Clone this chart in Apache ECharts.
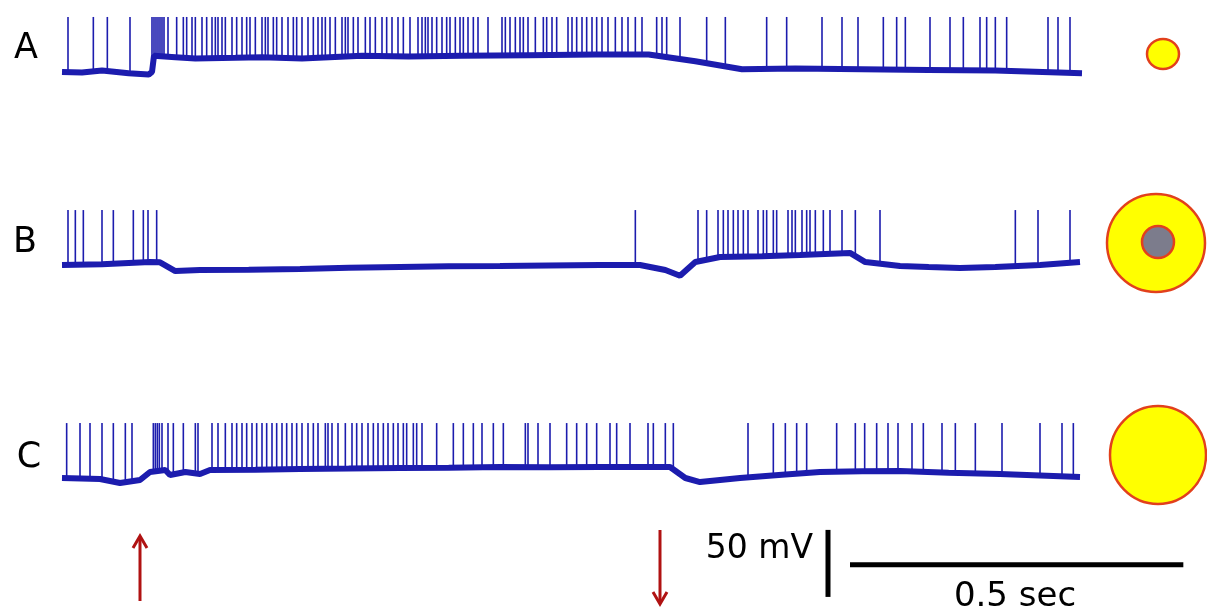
<!DOCTYPE html>
<html><head><meta charset="utf-8">
<script src="https://cdn.jsdelivr.net/npm/echarts@6/dist/echarts.min.js"></script>
<style>html,body{margin:0;padding:0;background:#fff}#c{width:1207px;height:613px}</style>
</head><body><div id="c"></div>
<script>
// ---- data (time in ms, membrane potential in mV) ----
const traceLabels = ['A', 'B', 'C'];
const spikePeak = [-24, -24, -24];
const spikesA = [9,47,68,102,135,138,141,144,147,150,153,159,172,182,187,195,200,210,217,225,230,234,240,245,255,262,270,277,282,290,300,305,309,317,322,330,339,347,352,360,369,377,384,390,395,402,410,420,425,429,437,444,455,462,470,480,487,495,504,512,522,534,540,545,549,555,562,570,577,582,590,597,602,609,617,624,639,660,665,672,680,687,692,699,710,722,727,735,742,759,765,772,780,787,795,802,810,819,830,840,849,860,870,892,900,907,927,967,995,1057,1087,1140,1170,1194,1232,1252,1265,1302,1332,1352,1377,1387,1400,1417,1479,1494,1512];
const baseA_t = [0,30,60,100,130,135,138,170,200,260,300,360,450,520,600,700,800,880,950,1020,1100,1200,1300,1400,1530];
const baseA_v = [-65,-65.5,-64,-66,-67,-65,-53,-54,-55,-54.5,-54,-55,-53,-53.5,-53,-52.5,-52,-52,-57,-63,-62.5,-63,-63.5,-64,-66];
const spikesB = [9,20,32,60,77,107,122,129,142,860,954,967,984,992,999,1007,1014,1022,1029,1044,1052,1057,1067,1072,1089,1095,1100,1110,1117,1122,1130,1142,1152,1170,1190,1227,1430,1464,1512];
const baseB_t = [0,60,132,147,170,207,280,357,430,507,580,657,730,807,867,905,927,950,987,1050,1107,1182,1205,1257,1300,1347,1400,1467,1527];
const baseB_v = [-65,-64.5,-62.8,-63,-69.5,-68.7,-68.5,-68,-67,-66.5,-66,-65.7,-65.3,-65,-65,-68.7,-73,-62.8,-59,-58.5,-57.5,-56,-62.8,-65.7,-66.5,-67.2,-66.5,-65,-62.8];
const spikesC = [7,27,42,60,77,95,105,137,140,143,146,150,159,167,182,200,204,225,234,245,255,262,270,277,285,292,300,307,315,322,330,337,345,352,360,369,377,384,395,399,405,414,425,435,442,450,459,467,474,482,489,497,504,512,517,527,532,540,562,587,602,617,630,647,662,695,699,714,732,757,772,787,802,822,832,852,879,887,905,917,1029,1067,1085,1102,1117,1162,1190,1204,1222,1239,1254,1275,1292,1320,1340,1370,1410,1467,1500,1517];
const baseC_t = [0,57,87,117,132,155,162,185,207,222,290,357,430,507,580,657,730,807,912,935,957,1017,1080,1137,1200,1257,1330,1407,1527];
const baseC_v = [-65,-65.7,-68.7,-66.5,-60.5,-59,-62.8,-60.5,-62,-59,-58.8,-58.3,-58,-57.5,-57.3,-56.8,-57,-56.8,-56.8,-65,-68,-65,-62.5,-60.5,-60,-59.8,-61,-62,-64.3];
const stimulusTimes = [117, 897];      // up arrow = on, down arrow = off
const stimulusDir = [1, -1];
const timeBar = [1182, 1682];          // 0.5 sec
const voltBarTime = 1149;
const voltBar = [12, 62];              // 50 mV
const timeBarLabel = '0.5 sec';
const voltBarLabel = '50 mV';

// ---- build ----
function interp(ts, vs, t) {
  if (t <= ts[0]) return vs[0];
  for (let i = 1; i < ts.length; i++) {
    if (t <= ts[i]) { const f = (t - ts[i-1]) / (ts[i] - ts[i-1]); return vs[i-1] + f * (vs[i] - vs[i-1]); }
  }
  return vs[vs.length - 1];
}
const spikes = [spikesA, spikesB, spikesC];
const baseT = [baseA_t, baseB_t, baseC_t];
const baseV = [baseA_v, baseB_v, baseC_v];
const gridTops = [11.6, 204.7, 417.7];
const BLUE = '#1c1cae';

function spikeRender(params, api) {
  const p0 = api.coord([api.value(0), api.value(1)]);
  const p1 = api.coord([api.value(0), api.value(2)]);
  return { type: 'line', shape: { x1: p0[0], y1: p0[1], x2: p1[0], y2: p1[1] },
    style: { stroke: BLUE, lineWidth: 1.6, lineCap: 'butt' } };
}

const grids = [], xAxes = [], yAxes = [], series = [];
for (let i = 0; i < 3; i++) {
  grids.push({ left: 62, width: 1020, top: gridTops[i], height: 80.4 });
  xAxes.push({ gridIndex: i, type: 'value', min: 0, max: 1530, show: false });
  yAxes.push({ gridIndex: i, type: 'value', min: -80, max: -20, show: false });
  series.push({ type: 'line', xAxisIndex: i, yAxisIndex: i, data: baseT[i].map((t, k) => [t, baseV[i][k]]),
    showSymbol: false, clip: false, lineStyle: { color: BLUE, width: 6 }, silent: true });
  series.push({ type: 'custom', xAxisIndex: i, yAxisIndex: i, clip: false, silent: true,
    data: spikes[i].map(s => [s, interp(baseT[i], baseV[i], s), spikePeak[i]]),
    renderItem: spikeRender });
}
// scale/stimulus grid
grids.push({ left: 62, width: 1690 / 1.5, top: 500, height: 113 });
xAxes.push({ gridIndex: 3, type: 'value', min: 0, max: 1690, show: false });
yAxes.push({ gridIndex: 3, type: 'value', min: 0, max: 84.3, show: false });
series.push({ type: 'line', xAxisIndex: 3, yAxisIndex: 3, data: [[timeBar[0], 36], [timeBar[1], 36]],
  showSymbol: false, clip: false, lineStyle: { color: '#000', width: 5, cap: 'butt' }, silent: true });
series.push({ type: 'line', xAxisIndex: 3, yAxisIndex: 3, data: [[voltBarTime, voltBar[0]], [voltBarTime, voltBar[1]]],
  showSymbol: false, clip: false, lineStyle: { color: '#000', width: 5, cap: 'butt' }, silent: true });
series.push({ type: 'custom', xAxisIndex: 3, yAxisIndex: 3, clip: false, silent: true,
  data: stimulusTimes.map((t, i) => [t, stimulusDir[i]]),
  renderItem: function (params, api) {
    const x = api.coord([api.value(0), 0])[0];
    const up = api.value(1) > 0;
    const y1 = up ? 601 : 530, y2 = up ? 536 : 604;
    const d = up ? 1 : -1;
    const st = { stroke: '#b01212', lineWidth: 3, fill: null, lineJoin: 'miter' };
    return { type: 'group', children: [
      { type: 'line', shape: { x1: x, y1: y1, x2: x, y2: y2 + d }, style: st },
      { type: 'polyline', shape: { points: [[x - 7, y2 + 12 * d], [x, y2], [x + 7, y2 + 12 * d]] }, style: st }
    ]};
  }
});

const chart = echarts.init(document.getElementById('c'), null, { renderer: 'canvas' });
const labelY = [49, 243, 458];
const labelX = [26, 25, 29];
const FONT = '"DejaVu Sans", "Liberation Sans", Arial, sans-serif';
const graphics = [];
traceLabels.forEach((l, i) => graphics.push({ type: 'text', x: labelX[i], y: labelY[i],
  style: { text: l, font: '35px ' + FONT, fill: '#000', textAlign: 'center', textVerticalAlign: 'middle' } }));
graphics.push({ type: 'text', x: 813, y: 549, style: { text: voltBarLabel, font: '33px ' + FONT, fill: '#000', textAlign: 'right', textVerticalAlign: 'middle' } });
graphics.push({ type: 'text', x: 1015, y: 597, style: { text: timeBarLabel, font: '34px ' + FONT, fill: '#000', textAlign: 'center', textVerticalAlign: 'middle' } });
const ring = { stroke: '#e2401c', lineWidth: 2.5 };
graphics.push({ type: 'ellipse', shape: { cx: 1163, cy: 54, rx: 16, ry: 15 }, style: Object.assign({ fill: '#ffff00' }, ring) });
graphics.push({ type: 'ellipse', shape: { cx: 1156, cy: 243, rx: 49, ry: 49 }, style: Object.assign({ fill: '#ffff00' }, ring) });
graphics.push({ type: 'ellipse', shape: { cx: 1158, cy: 242, rx: 16, ry: 16 }, style: Object.assign({ fill: '#7c7c8c' }, ring) });
graphics.push({ type: 'ellipse', shape: { cx: 1158, cy: 455, rx: 48, ry: 49 }, style: Object.assign({ fill: '#ffff00' }, ring) });

chart.setOption({ animation: false, backgroundColor: '#fff', grid: grids, xAxis: xAxes, yAxis: yAxes, series: series, graphic: graphics });
</script></body></html>
